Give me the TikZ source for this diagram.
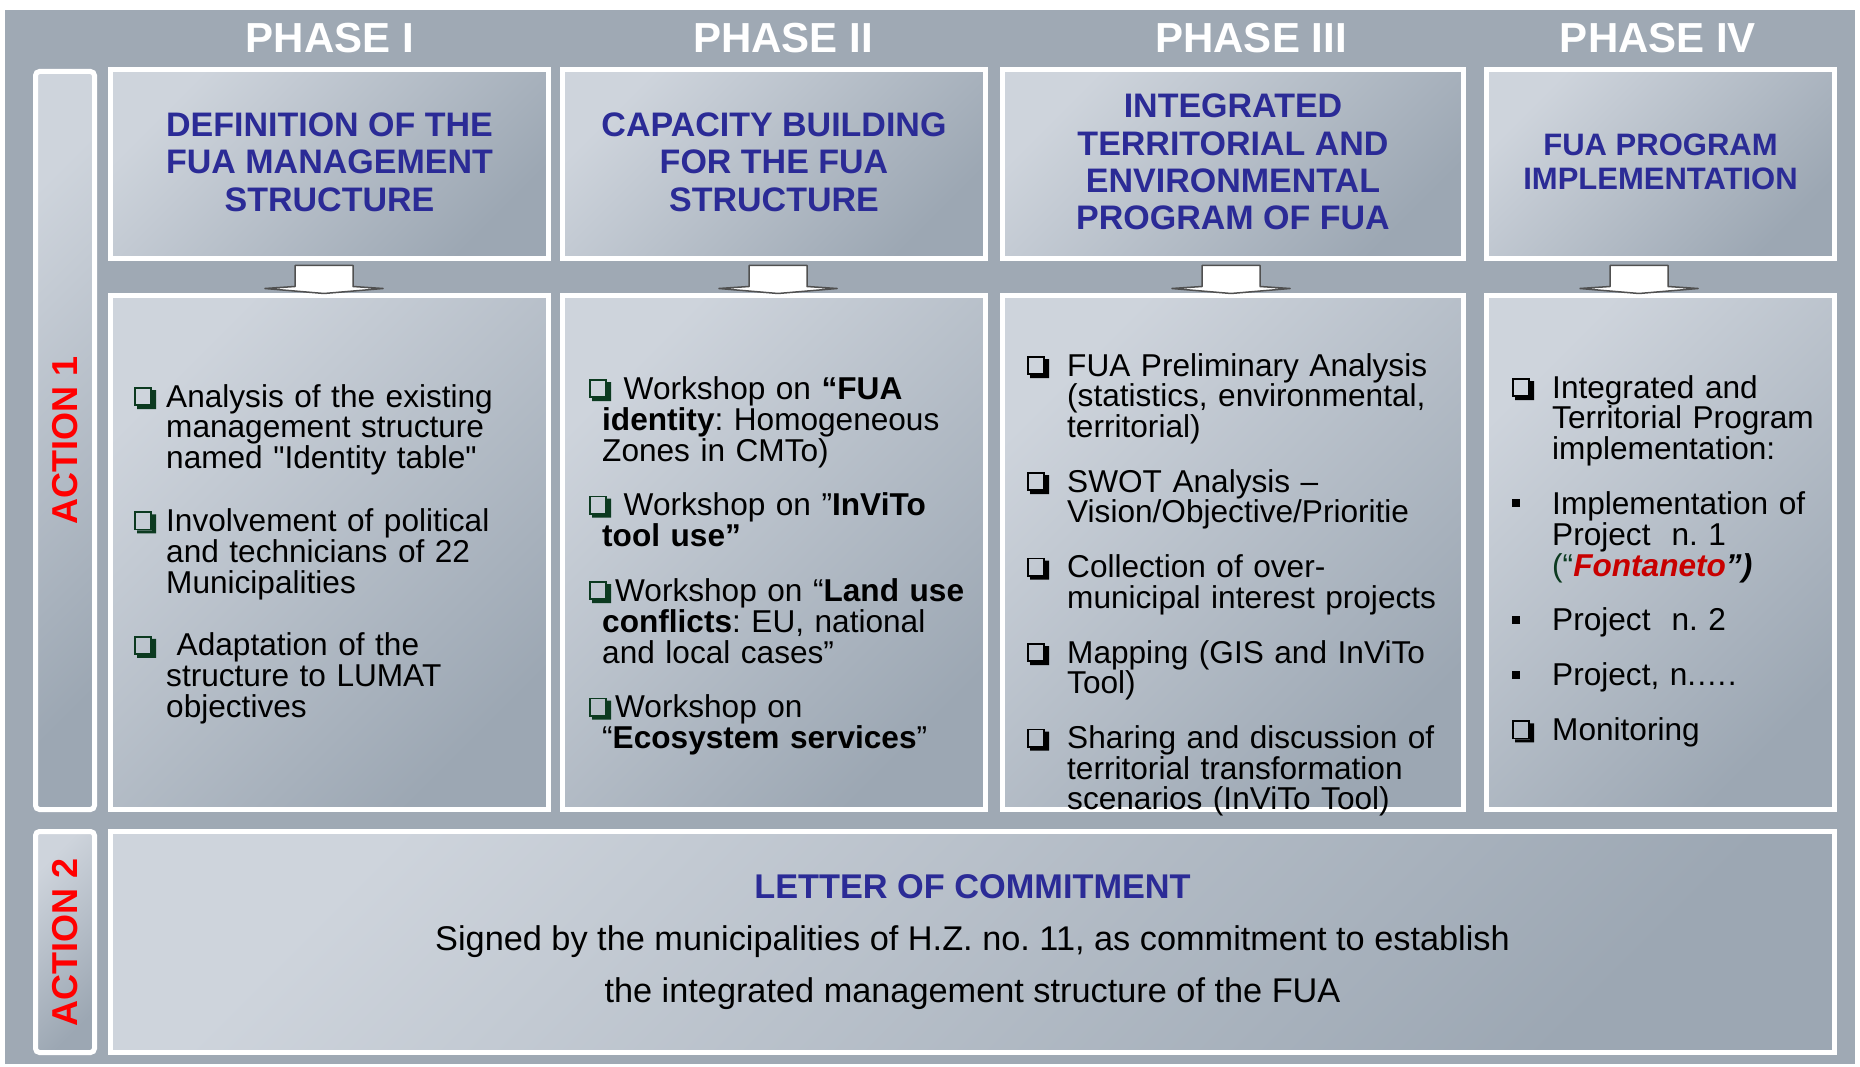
\documentclass[tikz,border=0pt]{standalone}
\usepackage{fontspec}
\setmainfont{Liberation Sans}
\usetikzlibrary{positioning,fit,calc}

\definecolor{bggray}{RGB}{159,169,180}
\definecolor{boxlight}{RGB}{206,212,220}
\definecolor{boxdark}{RGB}{156,167,179}
\definecolor{titleblue}{RGB}{43,43,150}
\definecolor{bulgreen}{RGB}{12,58,32}
\definecolor{fontred}{RGB}{200,0,0}
\definecolor{arrgray}{RGB}{80,80,80}

% bullet glyphs and hanging item
\newcommand{\sqb}[1][black]{\tikz[baseline=0pt,x=1pt,y=1pt]{%
  \fill[#1] (3,-2) -- (22,-2) -- (22,17) -- (18,17) -- (18,1) -- (3,1) -- cycle;
  \draw[#1, line width=1.8pt] (0.9,1.9) rectangle (17.1,19.1);}}
\newcommand{\sqdot}{\rule[7pt]{8pt}{8pt}}
\newcommand{\bitem}[2]{\par\hangindent=#1\hangafter=1\noindent#2\par}

\tikzset{
  panel/.style={draw=white, line width=5pt, inner sep=0pt,
    top color=boxlight, bottom color=boxdark, shading angle=45},
  sidepanel/.style={panel, rounded corners=4pt},
  phasehead/.style={text=white, inner sep=0pt, font=\bfseries\fontsize{42pt}{42pt}\selectfont},
  phasetitle/.style={text=titleblue, align=center, inner sep=0pt,
    font=\bfseries\fontsize{34pt}{37.4pt}\selectfont},
  actlabel/.style={text=red, rotate=90, inner sep=0pt, font=\bfseries\fontsize{36pt}{36pt}\selectfont},
  bullets/.style={anchor=base west, inner sep=0pt, text width=#1, align=left},
  pics/blockarrow/.style={code={
    \draw[fill=white, draw=arrgray, line width=1.5pt, line join=round]
      (-29,0) -- (29,0) -- (29,21) -- (59,23) -- (0,28) -- (-59,23) -- (-29,21) -- cycle;}}
}

\begin{document}
\frenchspacing
\begin{tikzpicture}[x=1pt, y=-1pt]
\useasboundingbox (0,0) rectangle (1860,1067);
\fill[white] (0,0) rectangle (1860,1067);
\fill[bggray] (5,10) rectangle (1855,1064);

% phase headers
\node[phasehead] (h1) at (330,38) {PHASE I};
\node[phasehead] (h2) at (783,38) {PHASE II};
\node[phasehead] (h3) at (1251,38) {PHASE III};
\node[phasehead] (h4) at (1658,38) {PHASE IV};

% action column
\node[sidepanel, fit={(35.5,71.5) (94.5,809.5)}] (a1) {};
\node[sidepanel, fit={(35.5,831.5) (94.5,1052.5)}] (a2) {};
\node[actlabel] (act1) at (a1) {ACTION 1};
\node[actlabel] (act2) at (a2) {ACTION 2};

% phase boxes
\node[panel, fit={(110.5,69.5) (548.5,258.5)}] (t1) {};
\node[panel, fit={(562.5,69.5) (985.5,258.5)}] (t2) {};
\node[panel, fit={(1002.5,69.5) (1463.5,258.5)}] (t3) {};
\node[panel, fit={(1486.5,69.5) (1834.5,258.5)}] (t4) {};
\node[panel, fit={(110.5,295.5) (548.5,809.5)}] (b1) {};
\node[panel, fit={(562.5,295.5) (985.5,809.5)}] (b2) {};
\node[panel, fit={(1002.5,295.5) (1463.5,809.5)}] (b3) {};
\node[panel, fit={(1486.5,295.5) (1834.5,809.5)}] (b4) {};
\node[panel, fit={(110.5,831.5) (1834.5,1052.5)}] (letter) {};

\node[phasetitle] (ttl1) at ([yshift=2pt]t1.center) {DEFINITION OF THE\\FUA MANAGEMENT\\STRUCTURE};
\node[phasetitle] (ttl2) at ([yshift=2pt]t2.center) {CAPACITY BUILDING\\FOR THE FUA\\STRUCTURE};
\node[phasetitle] (ttl3) at ([yshift=2pt]t3.center) {INTEGRATED\\TERRITORIAL AND\\ENVIRONMENTAL\\PROGRAM OF FUA};
\node[phasetitle, font=\bfseries\fontsize{31pt}{34.4pt}\selectfont] (ttl4) at ([yshift=2pt]t4.center) {FUA PROGRAM\\IMPLEMENTATION};

% arrows between the boxes
\pic at ($(t1.south)+(-5.5,4.5)$) {blockarrow};
\pic at ($(t2.south)+(4,4.5)$) {blockarrow};
\pic at ($(t3.south)+(-2,4.5)$) {blockarrow};
\pic at ($(t4.south)+(-21.5,4.5)$) {blockarrow};

% bullet lists
\node[bullets=400pt, font=\fontsize{31.6pt}{30.8pt}\selectfont] (lst1) at (134,376.2) {%
  \bitem{32pt}{\makebox[32pt][l]{\sqb[bulgreen]}Analysis of the existing\newline management structure\newline named \textquotedbl Identity table\textquotedbl}
  \vspace{32pt}
  \bitem{32pt}{\makebox[32pt][l]{\sqb[bulgreen]}Involvement of political\newline and technicians of 22\newline Municipalities}
  \vspace{32pt}
  \bitem{32pt}{\makebox[32pt][l]{\sqb[bulgreen]} Adaptation of the\newline structure to LUMAT\newline objectives}};

\node[bullets=390pt, font=\fontsize{31.6pt}{31pt}\selectfont] (lst2) at (589,368) {%
  \bitem{13pt}{\makebox[24pt][l]{\sqb[bulgreen]} Workshop on \textbf{“FUA}\newline\textbf{identity}: Homogeneous\newline Zones in CMTo)}
  \vspace{23.5pt}
  \bitem{13pt}{\makebox[24pt][l]{\sqb[bulgreen]} Workshop on ”\textbf{InViTo}\newline\textbf{tool use”}}
  \vspace{23.5pt}
  \bitem{13pt}{\makebox[26pt][l]{\sqb[bulgreen]}Workshop on “\textbf{Land use}\newline\textbf{conflicts}: EU, national\newline and local cases”}
  \vspace{23.5pt}
  \bitem{13pt}{\makebox[26pt][l]{\sqb[bulgreen]}Workshop on\newline “\textbf{Ecosystem services}”}};

\node[bullets=430pt, font=\fontsize{31.6pt}{30.5pt}\selectfont] (lst3) at (1027,345.5) {%
  \bitem{40pt}{\makebox[40pt][l]{\sqb}FUA Preliminary Analysis\newline (statistics, environmental,\newline territorial)}
  \vspace{24.5pt}
  \bitem{40pt}{\makebox[40pt][l]{\sqb}SWOT Analysis –\newline Vision/Objective/Prioritie}
  \vspace{24.5pt}
  \bitem{40pt}{\makebox[40pt][l]{\sqb}Collection of over-\newline municipal interest projects}
  \vspace{24.5pt}
  \bitem{40pt}{\makebox[40pt][l]{\sqb}Mapping (GIS and InViTo\newline Tool)}
  \vspace{24.5pt}
  \bitem{40pt}{\makebox[40pt][l]{\sqb}Sharing and discussion of\newline territorial transformation\newline scenarios (InViTo Tool)}};

\node[bullets=320pt, font=\fontsize{31.6pt}{30.8pt}\selectfont] (lst4) at (1512,367.2) {%
  \bitem{40pt}{\makebox[40pt][l]{\sqb}Integrated and\newline Territorial Program\newline implementation:}
  \vspace{24pt}
  \bitem{40pt}{\makebox[40pt][l]{\sqdot}Implementation of\newline Project~~n. 1\newline \textcolor{bulgreen}{(“}\textcolor{fontred}{\textbf{\textit{Fontaneto}}}\textbf{\textit{”)}}}
  \vspace{24pt}
  \bitem{40pt}{\makebox[40pt][l]{\sqdot}Project~~n. 2}
  \vspace{24pt}
  \bitem{40pt}{\makebox[40pt][l]{\sqdot}Project, n.….}
  \vspace{24pt}
  \bitem{40pt}{\makebox[40pt][l]{\sqb}Monitoring}};

% action 2 text
\node[align=center, inner sep=0pt, font=\fontsize{34.3pt}{52pt}\selectfont] (lettertxt) at (letter)
  {{\color{titleblue}\bfseries LETTER OF COMMITMENT}\\
   Signed by the municipalities of H.Z. no. 11, as commitment to establish\\
   the integrated management structure of the FUA};
\end{tikzpicture}
\end{document}
